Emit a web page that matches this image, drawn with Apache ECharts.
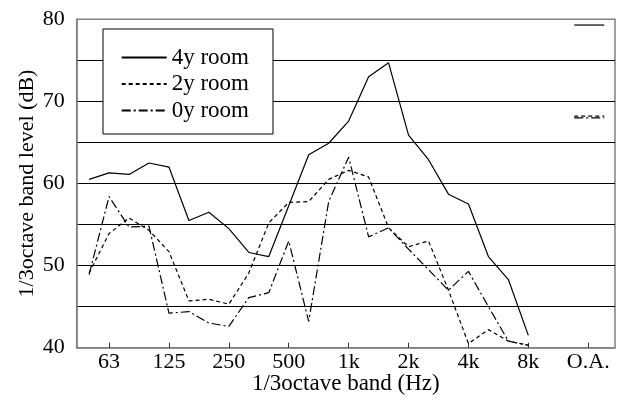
<!DOCTYPE html>
<html>
<head>
<meta charset="utf-8">
<script src="https://cdn.jsdelivr.net/npm/echarts@6/dist/echarts.min.js"></script>
<style>
html,body{margin:0;padding:0;background:#fff;}
#chart{width:621px;height:408px;}
</style>
</head>
<body>
<div id="chart"></div>
<script>
// 1/3 octave band centre frequencies (index positions on the x axis)
const bands = ['50','63','80','100','125','160','200','250','315','400','500','630','800',
  '1k','1.25k','1.6k','2k','2.5k','3.15k','4k','5k','6.3k','8k','10k','12.5k','O.A.'];
const tickLabels = ['63','125','250','500','1k','2k','4k','8k','O.A.'];
const seriesNames = ['4y room','2y room','0y room'];

const room4y = [60.5,61.3,61.1,62.5,62.0,55.5,56.5,54.5,51.6,51.1,57.3,63.5,64.9,67.6,73.0,74.7,65.9,62.9,58.7,57.5,51.1,48.3,41.5];
const room2y = [49.1,53.9,55.8,54.3,51.7,45.7,45.9,45.3,49.1,55.2,57.7,57.8,60.5,61.6,60.8,54.6,52.3,53.0,47.0,40.5,42.2,40.8,40.3];
const room0y = [48.9,58.4,54.7,54.8,44.2,44.4,43.0,42.6,46.1,46.7,53.0,43.2,57.8,63.2,53.5,54.6,52.0,49.5,47.0,49.3,45.0,40.8,40.3];
// overall (O.A.) levels
const overall = [79.3, 68.2, 68.0];

const FONT = '"Liberation Serif","Times New Roman",serif';
const dashes = [null, [4,3], [9,3,2,3]];
const values = [room4y, room2y, room0y];
const oaIndex = bands.indexOf('O.A.');
const tickIdx = tickLabels.map(l => bands.indexOf(l));

const lineSeries = values.map((arr, k) => ({
  name: seriesNames[k],
  type: 'line',
  symbol: 'none',
  data: arr.map((v, i) => [i, v]),
  lineStyle: { color: '#000', width: 1.2, type: dashes[k] ? dashes[k] : 'solid' },
  itemStyle: { color: '#000' },
  z: 5
}));

const oaSeries = overall.map((v, k) => ({
  type: 'custom',
  data: [[oaIndex, v]],
  renderItem: function (params, api) {
    const p = api.coord([api.value(0), api.value(1)]);
    return {
      type: 'line',
      shape: { x1: p[0] - 14, y1: p[1], x2: p[0] + 16, y2: p[1] },
      style: { stroke: '#000', lineWidth: 1.2, lineDash: dashes[k] || null }
    };
  },
  z: 5
}));

const chart = echarts.init(document.getElementById('chart'), null, { renderer: 'canvas' });
chart.setOption({
  animation: false,
  backgroundColor: '#fff',
  textStyle: { fontFamily: FONT, color: '#000' },
  grid: {
    left: 76.7, right: 6, top: 19.3, bottom: 60.3,
    show: true, borderColor: '#808080', borderWidth: 1.5, containLabel: false
  },
  legend: {
    data: seriesNames,
    orient: 'vertical',
    left: 103, top: 29,
    padding: [17, 24, 12, 17.7],
    itemGap: 3.5,
    itemWidth: 45,
    itemHeight: 14,
    borderColor: '#000',
    borderWidth: 1,
    backgroundColor: '#fff',
    itemStyle: { color: 'rgba(0,0,0,0)', borderWidth: 0, opacity: 0 },
    textStyle: { fontFamily: FONT, fontSize: 23, color: '#000' },
    selectedMode: false
  },
  xAxis: {
    type: 'value',
    min: -0.62,
    max: 26.34,
    name: '1/3octave band (Hz)',
    nameLocation: 'middle',
    nameGap: 25,
    nameMoveOverlap: false,
    nameTextStyle: { fontFamily: FONT, fontSize: 23, color: '#000' },
    axisLine: { show: true, onZero: false, lineStyle: { color: '#808080', width: 1.5 } },
    axisTick: { show: true, inside: true, length: 5, customValues: tickIdx, lineStyle: { color: '#333', width: 1 } },
    axisLabel: {
      customValues: tickIdx,
      margin: 4,
      fontFamily: FONT, fontSize: 22, color: '#000',
      formatter: v => bands[Math.round(v)]
    },
    splitLine: { show: false }
  },
  yAxis: {
    type: 'value',
    min: 40, max: 80, interval: 5,
    name: '1/3octave band level (dB)',
    nameLocation: 'middle',
    nameGap: 38,
    nameMoveOverlap: false,
    nameTextStyle: { fontFamily: FONT, fontSize: 22, color: '#000' },
    axisLine: { show: true, onZero: false, lineStyle: { color: '#808080', width: 1.5 } },
    axisTick: { show: false },
    axisLabel: {
      margin: 12,
      fontFamily: FONT, fontSize: 22, color: '#000',
      formatter: v => (v % 10 === 0 ? String(v) : '')
    },
    splitLine: { show: true, showMinLine: false, showMaxLine: false, lineStyle: { color: '#000', width: 1.2 } }
  },
  series: lineSeries.concat(oaSeries)
});
</script>
</body>
</html>
